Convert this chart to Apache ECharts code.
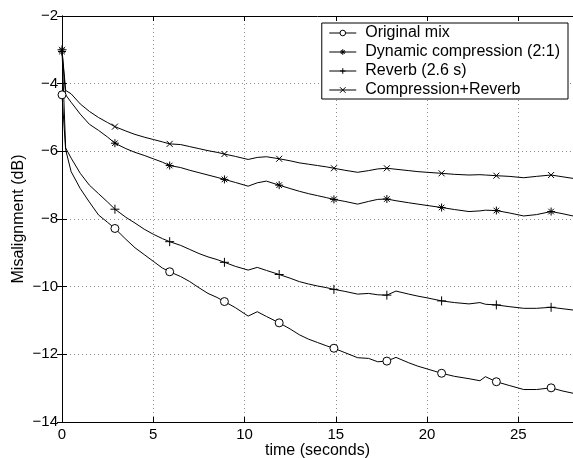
<!DOCTYPE html>
<html>
<head>
<meta charset="utf-8">
<title>Misalignment vs time</title>
<script src="https://cdn.jsdelivr.net/npm/echarts@6/dist/echarts.min.js"></script>
<style>
  html, body { margin: 0; padding: 0; background: #fff; }
  #chart { width: 573px; height: 458px; }
</style>
</head>
<body>
<div id="chart"></div>
<script>
/* global echarts */

const seriesNames = ['Original mix', 'Dynamic compression (2:1)', 'Reverb (2.6 s)', 'Compression+Reverb'];

const timeSec = [0, 0.2, 0.5, 1, 1.5, 2, 2.5, 2.9, 3.5, 4, 4.5, 5, 5.5, 5.9, 6.5, 7, 7.5, 8, 8.5, 8.9,
  9.5, 10.2, 10.7, 11.2, 11.9, 12.5, 13, 13.5, 14, 14.5, 14.9, 15.5, 16.2, 16.8, 17.3, 17.8, 18.3, 19,
  19.5, 20, 20.8, 21.5, 22.3, 22.9, 23.2, 23.8, 24.5, 25.3, 26, 26.8, 27.4, 28];

const markerTimes = [0, 2.9, 5.9, 8.9, 11.9, 14.9, 17.8, 20.8, 23.8, 26.8];

const originalMix = [-4.33, -5.95, -6.6, -7.1, -7.5, -7.88, -8.1, -8.28, -8.6, -8.85, -9.05, -9.25, -9.45, -9.56,
  -9.7, -9.85, -10.03, -10.2, -10.32, -10.44, -10.62, -10.87, -10.74, -10.88, -11.07, -11.25, -11.42, -11.55,
  -11.65, -11.75, -11.82, -11.95, -12.1, -12.12, -12.22, -12.2, -12.09, -12.25, -12.35, -12.43, -12.56, -12.65,
  -12.72, -12.78, -12.66, -12.81, -12.92, -13.04, -13.04, -12.99, -13.08, -13.15];

const dynCompression = [-3.05, -4.33, -4.55, -4.9, -5.2, -5.38, -5.58, -5.76, -5.92, -6.03, -6.12, -6.22, -6.32, -6.42,
  -6.48, -6.56, -6.63, -6.7, -6.77, -6.83, -6.92, -7.03, -6.93, -6.88, -7.0, -7.1, -7.18, -7.25, -7.31, -7.37,
  -7.42, -7.48, -7.56, -7.48, -7.42, -7.41, -7.46, -7.52, -7.56, -7.6, -7.66, -7.72, -7.78, -7.76, -7.74, -7.75,
  -7.82, -7.91, -7.87, -7.78, -7.84, -7.91];

const reverb = [-3.0, -5.9, -6.2, -6.65, -7.0, -7.25, -7.5, -7.71, -7.95, -8.12, -8.3, -8.45, -8.58, -8.67,
  -8.78, -8.9, -9.02, -9.12, -9.2, -9.28, -9.4, -9.51, -9.43, -9.52, -9.64, -9.75, -9.85, -9.92, -9.98, -10.03,
  -10.08, -10.14, -10.22, -10.2, -10.24, -10.25, -10.13, -10.22, -10.28, -10.33, -10.42, -10.47, -10.51, -10.47,
  -10.52, -10.54, -10.59, -10.64, -10.64, -10.61, -10.65, -10.69];

const compReverb = [-3.0, -4.2, -4.3, -4.6, -4.82, -5.0, -5.15, -5.27, -5.4, -5.5, -5.58, -5.65, -5.72, -5.78,
  -5.8, -5.86, -5.92, -5.98, -6.03, -6.08, -6.15, -6.24, -6.18, -6.16, -6.22, -6.28, -6.34, -6.38, -6.42, -6.46,
  -6.5, -6.56, -6.62, -6.57, -6.52, -6.5, -6.53, -6.57, -6.6, -6.62, -6.65, -6.68, -6.7, -6.69, -6.7, -6.72,
  -6.74, -6.78, -6.74, -6.7, -6.75, -6.8];

(function () {
  const FONT = '"Liberation Sans", Arial, Helvetica, sans-serif';

  const symbols = {
    circle: 'circle',
    star: 'path://M5,0L5,10M0,5L10,5M1.5,1.5L8.5,8.5M8.5,1.5L1.5,8.5',
    plus: 'path://M5,0L5,10M0,5L10,5',
    cross: 'path://M0,0L10,10M10,0L0,10'
  };

  function buildData (values) {
    return timeSec.map((t, i) => {
      const item = { value: [t, values[i]] };
      if (markerTimes.indexOf(t) < 0) item.symbol = 'none';
      return item;
    });
  }

  function lineSeries (name, values, symbol, size, fill) {
    return {
      name: name,
      type: 'line',
      data: buildData(values),
      symbol: symbol,
      symbolSize: size,
      showAllSymbol: true,
      smooth: false,
      lineStyle: { color: '#000', width: 1 },
      itemStyle: { color: fill, borderColor: '#000', borderWidth: 1 },
      emphasis: { disabled: true },
      z: 3
    };
  }

  const minus = (v) => String(v).replace('-', '\u2212');

  const gridLine = { show: true, lineStyle: { color: '#8c8c8c', width: 1, type: [1, 3] } };
  const boxLine = { show: true, lineStyle: { color: '#000', width: 1 } };
  const inTick = { show: true, inside: true, length: 5, lineStyle: { color: '#000' } };

  const chart = echarts.init(document.getElementById('chart'), null, { renderer: 'canvas' });

  chart.setOption({
    animation: false,
    backgroundColor: '#fff',
    textStyle: { fontFamily: FONT },
    grid: { left: 62, right: 0, top: 16, bottom: 36, containLabel: false, outerBoundsMode: 'none' },
    legend: {
      data: seriesNames,
      orient: 'vertical',
      right: 5,
      top: 23,
      itemWidth: 27,
      itemHeight: 7,
      itemGap: 1,
      padding: [1, 8, 0, 7],
      backgroundColor: '#fff',
      borderColor: '#000',
      borderWidth: 1,
      borderRadius: 0,
      selectedMode: false,
      lineStyle: { width: 1, color: '#000' },
      itemStyle: { borderWidth: 1 },
      textStyle: { fontFamily: FONT, fontSize: 16, color: '#000', lineHeight: 18, padding: [0, 0, 0, 4] }
    },
    xAxis: [{
      type: 'value',
      min: 0,
      max: 28,
      interval: 5,
      name: 'time (seconds)',
      nameLocation: 'middle',
      nameGap: 21,
      nameMoveOverlap: false,
      nameTextStyle: { fontFamily: FONT, fontSize: 16, color: '#000' },
      axisLine: boxLine,
      axisTick: inTick,
      axisLabel: { fontFamily: FONT, fontSize: 15, color: '#000', margin: 5, showMaxLabel: false },
      splitLine: gridLine
    }, {
      type: 'value',
      position: 'top',
      min: 0,
      max: 28,
      interval: 5,
      axisLine: boxLine,
      axisTick: inTick,
      axisLabel: { show: false },
      splitLine: { show: false }
    }],
    yAxis: [{
      type: 'value',
      min: -14,
      max: -2,
      interval: 2,
      name: 'Misalignment (dB)',
      nameLocation: 'middle',
      nameGap: 35,
      nameMoveOverlap: false,
      nameTextStyle: { fontFamily: FONT, fontSize: 16, color: '#000' },
      axisLine: boxLine,
      axisTick: inTick,
      axisLabel: { fontFamily: FONT, fontSize: 15, color: '#000', margin: 4, formatter: minus },
      splitLine: gridLine
    }, {
      type: 'value',
      position: 'right',
      min: -14,
      max: -2,
      interval: 2,
      axisLine: boxLine,
      axisTick: inTick,
      axisLabel: { show: false },
      splitLine: { show: false }
    }],
    series: [
      lineSeries(seriesNames[0], originalMix, symbols.circle, 8, '#fff'),
      lineSeries(seriesNames[1], dynCompression, symbols.star, 8, '#000'),
      lineSeries(seriesNames[2], reverb, symbols.plus, 9, '#000'),
      lineSeries(seriesNames[3], compReverb, symbols.cross, 6, '#000')
    ]
  });
})();
</script>
</body>
</html>
